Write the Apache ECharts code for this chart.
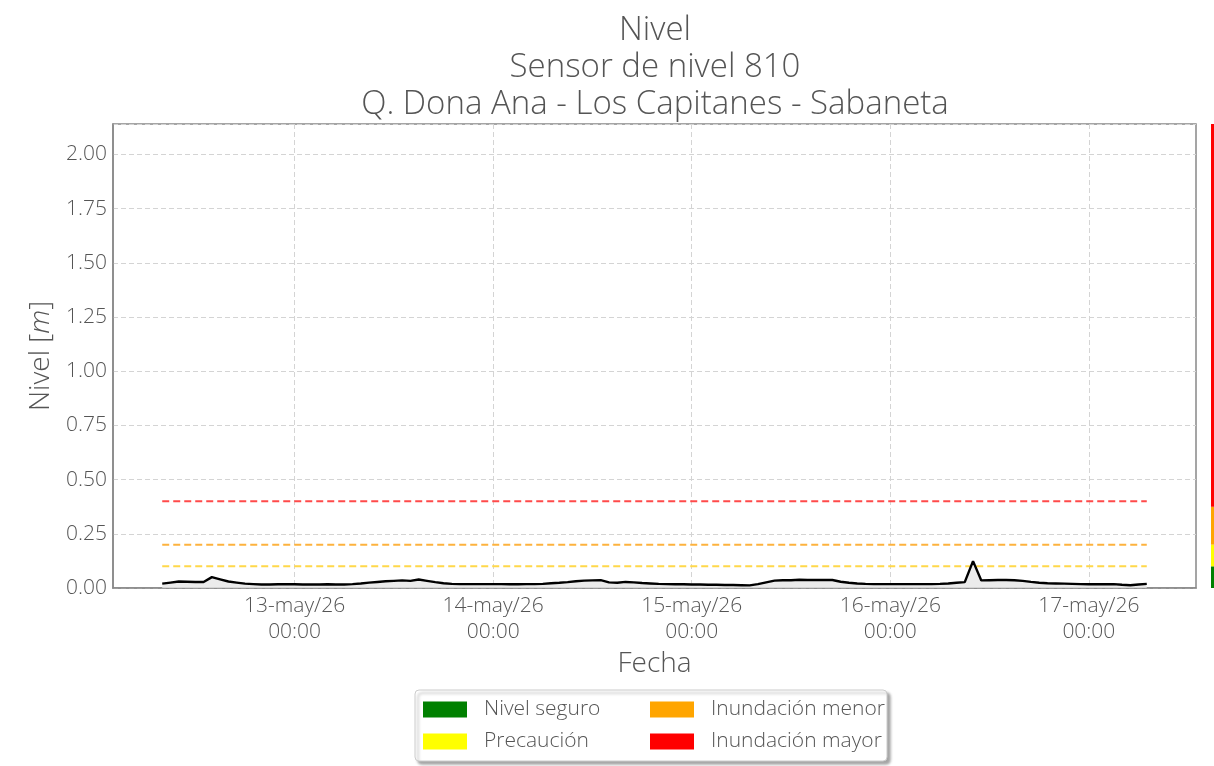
<!DOCTYPE html>
<html>
<head>
<meta charset="utf-8">
<script src="https://cdn.jsdelivr.net/npm/echarts@6/dist/echarts.min.js"></script>
<style>
  html, body { margin: 0; padding: 0; background: #fff; }
  #chart { width: 1214px; height: 766px; }
</style>
</head>
<body>
<div id="chart"></div>
<script>
// Hourly water level (m), sensor 810, starting 12-may-2026 08:00
const startTime = Date.UTC(2026, 4, 12, 8, 0);
const stepMs = 3600 * 1000;
const nivel = [
  0.020, 0.025, 0.030, 0.029, 0.028, 0.028, 0.050, 0.040, 0.030, 0.025,
  0.020, 0.018, 0.016, 0.016, 0.017, 0.017, 0.017, 0.016, 0.016, 0.016,
  0.017, 0.016, 0.016, 0.018, 0.021, 0.025, 0.028, 0.031, 0.033, 0.035,
  0.033, 0.039, 0.033, 0.027, 0.022, 0.019, 0.018, 0.018, 0.018, 0.018,
  0.018, 0.018, 0.017, 0.017, 0.018, 0.018, 0.019, 0.022, 0.024, 0.027,
  0.031, 0.034, 0.035, 0.036, 0.026, 0.024, 0.028, 0.026, 0.023, 0.021,
  0.019, 0.018, 0.017, 0.017, 0.016, 0.016, 0.015, 0.015, 0.014, 0.014,
  0.013, 0.012, 0.018, 0.026, 0.034, 0.036, 0.036, 0.038, 0.037, 0.037,
  0.037, 0.037, 0.029, 0.024, 0.021, 0.019, 0.018, 0.018, 0.018, 0.018,
  0.018, 0.018, 0.018, 0.018, 0.019, 0.021, 0.024, 0.027, 0.124, 0.035,
  0.036, 0.037, 0.037, 0.036, 0.033, 0.028, 0.024, 0.022, 0.021, 0.020,
  0.019, 0.018, 0.017, 0.017, 0.017, 0.018, 0.015, 0.013, 0.016, 0.019
];

// Alert thresholds (m) drawn as dashed lines
const umbralNombres = ['Inundación mayor', 'Inundación menor', 'Precaución'];
const umbralValores = [0.40, 0.20, 0.10];
const umbralColores = ['#ff4a4a', '#fdb23e', '#ffd84a'];

// Side colour band: segment names, upper limits (m) and colours
const bandaNombres = ['Nivel seguro', 'Precaución', 'Inundación menor', 'Inundación mayor'];
const bandaLimites = [0.10, 0.20, 0.375, 2.14];
const bandaColores = ['#008000', '#ffff00', '#ffa500', '#ff0000'];

// Date ticks (UTC midnight) and their labels
const diasTicks = ['2026-05-13', '2026-05-14', '2026-05-15', '2026-05-16', '2026-05-17'];
const diasEtiquetas = ['13-may/26\n00:00', '14-may/26\n00:00', '15-may/26\n00:00', '16-may/26\n00:00', '17-may/26\n00:00'];

const yMax = 2.14;
const font = '"Open Sans", Lato, sans-serif';
const weight = 300;
const textColor = '#555555';

const tickValues = diasTicks.map(d => Date.parse(d + 'T00:00:00Z'));
const tickLabelMap = {};
tickValues.forEach((v, i) => { tickLabelMap[v] = diasEtiquetas[i]; });

const serie = nivel.map((v, i) => [startTime + i * stepMs, v]);
const tFirst = serie[0][0];
const tLast = serie[serie.length - 1][0];
const pad = (tLast - tFirst) * 0.05;

const series = [];

// Threshold lines
umbralValores.forEach((u, i) => {
  series.push({
    name: umbralNombres[i] + ' umbral',
    type: 'line',
    xAxisIndex: 0, yAxisIndex: 0,
    data: [[tFirst, u], [tLast, u]],
    showSymbol: false,
    silent: true,
    lineStyle: { color: umbralColores[i], width: 2, type: [7, 4] },
    z: 3
  });
});

// Level series
series.push({
  name: 'Nivel',
  type: 'line',
  xAxisIndex: 0, yAxisIndex: 0,
  data: serie,
  showSymbol: false,
  lineStyle: { color: '#000000', width: 2.4 },
  areaStyle: { color: '#e6e6e6', opacity: 0.8 },
  z: 4
});

// Colour band segments (stacked)
bandaNombres.forEach((n, i) => {
  const prev = i === 0 ? 0 : bandaLimites[i - 1];
  series.push({
    name: n,
    type: 'bar',
    xAxisIndex: 1, yAxisIndex: 1,
    stack: 'banda',
    barWidth: '100%',
    data: [+(bandaLimites[i] - prev).toFixed(4)],
    itemStyle: { color: bandaColores[i] },
    silent: true
  });
});

const legendText = { fontFamily: font, fontWeight: weight, fontSize: 21, color: textColor, padding: [0, 0, 0, 12] };

const option = {
  backgroundColor: '#ffffff',
  animation: false,
  title: {
    text: 'Nivel\nSensor de nivel 810\nQ. Dona Ana - Los Capitanes - Sabaneta',
    left: 650,
    textAlign: 'center',
    top: 7,
    textStyle: {
      fontFamily: font,
      fontWeight: weight,
      fontSize: 33,
      lineHeight: 37,
      color: textColor
    }
  },
  grid: [
    { left: 113, right: 18, top: 124, bottom: 178, show: true, borderColor: '#888888', borderWidth: 1.5, backgroundColor: 'transparent' },
    { left: 1211, width: 6, top: 124, bottom: 178 }
  ],
  xAxis: [
    {
      type: 'value',
      gridIndex: 0,
      min: tFirst - pad,
      max: tLast + pad,
      name: 'Fecha',
      nameLocation: 'middle',
      nameGap: 59,
      nameTextStyle: { fontFamily: font, fontWeight: weight, fontSize: 28, color: textColor },
      axisLine: { show: true, lineStyle: { color: '#888888', width: 1.5 } },
      axisTick: { show: false, customValues: tickValues },
      axisLabel: {
        customValues: tickValues,
        formatter: v => tickLabelMap[v] || '',
        fontFamily: font,
        fontWeight: weight,
        fontSize: 21,
        lineHeight: 26,
        color: textColor,
        margin: 5
      },
      splitLine: { show: true, lineStyle: { color: '#d4d4d4', type: [5, 3], width: 1 } }
    },
    {
      type: 'category',
      gridIndex: 1,
      data: [''],
      show: false
    }
  ],
  yAxis: [
    {
      type: 'value',
      gridIndex: 0,
      min: 0,
      max: yMax,
      interval: 0.25,
      name: 'Nivel [{i|m}]',
      nameLocation: 'middle',
      nameGap: 54,
      nameTextStyle: {
        fontFamily: font, fontWeight: weight, fontSize: 28, color: textColor,
        rich: { i: { fontFamily: font, fontWeight: weight, fontSize: 28, color: textColor, fontStyle: 'italic' } }
      },
      axisLine: { show: true, lineStyle: { color: '#888888', width: 1.5 } },
      axisTick: { show: false },
      axisLabel: {
        formatter: v => v.toFixed(2),
        showMaxLabel: false,
        fontFamily: font,
        fontWeight: weight,
        fontSize: 21,
        color: textColor,
        margin: 6
      },
      splitLine: { show: true, lineStyle: { color: '#d4d4d4', type: [5, 3], width: 1 } }
    },
    {
      type: 'value',
      gridIndex: 1,
      min: 0,
      max: yMax,
      show: false
    }
  ],
  legend: [
    {
      data: ['Nivel seguro', 'Precaución'],
      orient: 'vertical',
      left: 423,
      top: 699,
      padding: 0,
      icon: 'rect',
      itemWidth: 44,
      itemHeight: 16,
      itemGap: 11,
      selectedMode: false,
      textStyle: legendText
    },
    {
      data: ['Inundación menor', 'Inundación mayor'],
      orient: 'vertical',
      left: 650,
      top: 699,
      padding: 0,
      icon: 'rect',
      itemWidth: 44,
      itemHeight: 16,
      itemGap: 11,
      selectedMode: false,
      textStyle: legendText
    }
  ],
  graphic: [
    {
      type: 'rect',
      z: -1,
      shape: { x: 415, y: 690, width: 472, height: 71, r: 4 },
      style: {
        fill: '#ffffff',
        stroke: '#cccccc',
        lineWidth: 1,
        shadowColor: 'rgba(0,0,0,0.35)',
        shadowBlur: 3,
        shadowOffsetX: 3,
        shadowOffsetY: 3
      }
    }
  ],
  series: series
};

const chart = echarts.init(document.getElementById('chart'), null, { renderer: 'canvas' });
chart.setOption(option);
</script>
</body>
</html>
